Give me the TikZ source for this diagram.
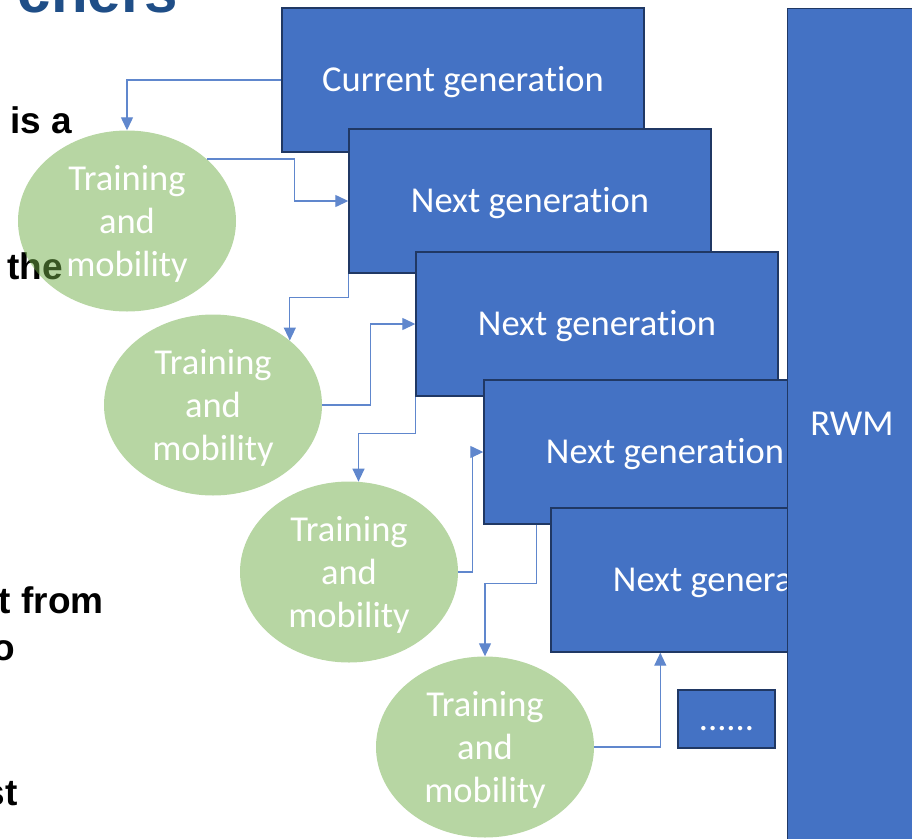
\documentclass[tikz,border=0pt]{standalone}
\usepackage{fontspec}
\setmainfont{Carlito}[Ligatures=NoCommon]
\newfontfamily\slidefont{Liberation Sans}
\usetikzlibrary{shapes.geometric,arrows.meta}
\definecolor{genblue}{HTML}{4472C4}
\definecolor{genedge}{HTML}{203864}
\definecolor{tmgreen}{HTML}{70AD47}
\definecolor{titleblue}{HTML}{1F4E87}

\begin{document}
\begin{tikzpicture}[x=1pt,y=-1pt,
gentext/.style={text=white,font=\fontsize{36.5}{43}\selectfont,text height=23pt,text depth=0pt},
gen/.style={gentext,rectangle,draw=genedge,line width=1.4pt,fill=genblue,minimum width=362pt,minimum height=144pt},
tm/.style={ellipse,fill=tmgreen,fill opacity=0.5,text opacity=1,text=white,minimum width=218pt,minimum height=181pt,inner sep=0pt,align=center,text depth=0pt,font=\fontsize{36.5}{43}\selectfont},
back/.style={font=\slidefont\bfseries\fontsize{37}{44}\selectfont,anchor=base east,inner sep=0pt},
link/.style={genblue!85,line width=1.3pt,-{Triangle[length=13pt,width=12pt]}}]
\useasboundingbox (0,0) rectangle (912,838);
\node[back,text=titleblue,font=\slidefont\bfseries\fontsize{60}{70}\selectfont] (title) at (178,12) {chers};
\node[back] (isa) at (72,133) {is a};
\node[back] (the) at (63,279) {the};
\node[back] (from) at (104,613) {t from};
\node[back] (o) at (15,660) {o};
\node[back] (st) at (18,805) {st};
\node[tm] (tm1) at (127,221) {Training\\and\\mobility};
\node[tm] (tm2) at (213,405) {Training\\and\\mobility};
\node[tm] (tm3) at (349,572) {Training\\and\\mobility};
\node[tm] (tm4) at (485,747) {Training\\and\\mobility};
\node[gen] (cur) at (463,80) {Current generation};
\node[gen] (gen1) at (530,201) {Next generation};
\node[gen] (gen2) at (597,324) {Next generation};
\node[gen] (gen3) at (665,452) {Next generation};
\node[gen] (gen4) at (732,580) {Next generation};
\node[gen,minimum width=97pt,minimum height=58pt] (more) at (726.5,719) {......};
\node[gen,anchor=north west,minimum width=200pt,minimum height=900pt] (rwm) at (787,8) {};
\node[gentext] (rwmlabel) at (852,424) {RWM};
\draw[link] (cur.west) -| (tm1.north);
\draw[link] (tm1.38) -- ++(88,0) |- (gen1.west);
\draw[link] (gen1.south west) -- ++(0,24) -| (tm2.40);
\draw[link] (tm2.east) -- ++(48,0) |- (gen2.west);
\draw[link] (gen2.south west) -- ++(0,37) -| (tm3.84);
\draw[link] (tm3.east) -- ++(14,0) |- (gen3.west);
\draw[link] ([xshift=53pt]gen3.south west) -- ++(0,59) -| (tm4.north);
\draw[link] (tm4.east) -| ([xshift=110pt]gen4.south west);
\end{tikzpicture}
\end{document}
